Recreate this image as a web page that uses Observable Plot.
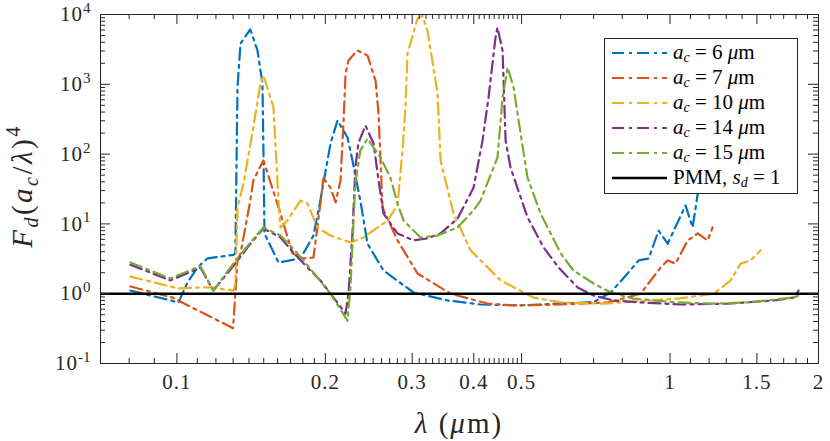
<!DOCTYPE html>
<html>
<head>
<meta charset="utf-8">
<script src="https://cdn.jsdelivr.net/npm/d3@7"></script>
<script src="https://cdn.jsdelivr.net/npm/@observablehq/plot@0.6"></script>
<style>
  html, body { margin: 0; padding: 0; background: #fff; }
</style>
</head>
<body>
<div id="chart"></div>
<script>
// ---- data (λ in µm, Fd(ac/λ)^4) ----
const lam6 = [0.0805,0.1007,0.1051,0.1101,0.1153,0.1302,0.1314,0.1327,0.1346,0.1409,0.1457,0.1491,0.1498,0.1505,0.1607,0.1781,0.1892,0.1954,0.2049,0.2117,0.2218,0.2270,0.2355,0.2435,0.2624,0.3019,0.354,0.413,0.498,0.60,0.70,0.758,0.820,0.864,0.905,0.948,0.989,1.075,1.111,1.138];
const f6   = [1.11,0.75,1.45,2.37,3.2,3.6,3.8,900,3850,6100,3050,1030,113,7.3,2.8,3.2,6.8,21.6,142,303,173,81,21.6,5.2,2.15,1.04,0.80,0.70,0.68,0.72,0.76,1.04,1.95,3.0,3.2,8.0,5.2,18.4,8.9,27];

const lam7 = [0.0805,0.098,0.130,0.1327,0.1346,0.1409,0.1429,0.1498,0.1622,0.1714,0.1806,0.1892,0.1927,0.1982,0.2049,0.2098,0.2147,0.2178,0.2198,0.2228,0.2323,0.2435,0.2528,0.2564,0.2612,0.2801,0.3076,0.3589,0.4266,0.4817,0.60,0.75,0.8716,0.957,0.989,1.026,1.086,1.138,1.192,1.22];
const f7   = [1.27,0.88,0.32,3.0,3.8,21.6,42,81,14.1,3.8,3.2,3.3,8.9,45,33,20.3,42,303,1430,2190,3050,2590,1130,382,17.2,5.8,1.95,1.0,0.72,0.68,0.70,0.75,1.0,2.37,3.0,2.7,5.8,7.3,5.8,8.9];

const lam10 = [0.0805,0.1007,0.1116,0.1169,0.1302,0.1314,0.1327,0.1365,0.1429,0.1477,0.1498,0.1570,0.1607,0.1622,0.1675,0.1781,0.1840,0.1927,0.2049,0.2249,0.2390,0.2673,0.2801,0.2868,0.2908,0.2935,0.3076,0.3148,0.3221,0.3378,0.3425,0.3639,0.3939,0.4533,0.5284,0.60,0.733,1.036,1.226,1.327,1.39,1.457,1.526];
const f10   = [1.76,1.19,1.23,1.23,1.11,1.40,17.2,38,240,1030,1340,465,21.6,8.9,11.2,21.6,19.6,8.9,6.8,5.4,6.4,11.2,18.4,113,497,2760,8770,9680,5900,738,81,14.1,4.2,1.55,0.88,0.75,0.72,0.85,1.0,1.55,2.7,3.0,4.2];

const lam14 = [0.0805,0.097,0.1116,0.1185,0.1302,0.1409,0.1498,0.1622,0.1722,0.1840,0.1954,0.2078,0.2198,0.2228,0.2270,0.2301,0.2333,0.2412,0.2505,0.2564,0.2624,0.2801,0.3019,0.3221,0.3425,0.3707,0.3995,0.4167,0.4285,0.4426,0.4467,0.4575,0.4640,0.4749,0.5140,0.5541,0.5943,0.6494,0.70,0.768,0.872,1.051,1.309,1.623,1.781,1.823];
const f14   = [2.6,1.55,2.37,1.11,2.5,5.2,8.6,6.4,3.9,2.37,1.55,0.88,0.52,1.0,7.3,64,142,257,142,42,14.1,7.3,5.8,6.2,7.3,11.9,33,157,647,4680,6515,3050,157,64,12.4,4.6,2.37,1.23,0.94,0.80,0.75,0.70,0.72,0.80,0.88,1.11];

const lam15 = [0.0805,0.097,0.1116,0.1185,0.1302,0.1409,0.1498,0.1622,0.1722,0.1806,0.1927,0.2049,0.2218,0.2249,0.2301,0.2355,0.2435,0.2588,0.2710,0.2801,0.2881,0.3119,0.3378,0.3707,0.3995,0.4128,0.4467,0.4575,0.4684,0.4817,0.4977,0.5140,0.5463,0.60,0.6368,0.70,0.758,0.843,1.036,1.209,1.437,1.781,1.823];
const f15   = [2.8,1.65,2.5,1.11,2.7,5.4,8.9,6.8,4.4,3.0,1.71,1.0,0.41,1.23,38,113,167,89,46,19.6,11.2,6.4,6.8,8.9,15.6,21.6,89,647,1740,900,197,46,14.1,3.8,2.15,1.40,1.04,0.85,0.75,0.72,0.75,0.88,0.94];

const pmmLevel = 1;

const seriesNames  = ["6", "7", "10", "14", "15"];
const seriesColors = ["#0072BD", "#D95319", "#EDB120", "#7E2F8E", "#77AC30"];

// ---- tick values ----
const xMajor = [0.1, 0.2, 0.3, 0.4, 0.5, 1, 1.5, 2];
const xMinor = [0.07,0.08,0.09,
  0.11,0.12,0.13,0.14,0.15,0.16,0.17,0.18,0.19,
  0.21,0.22,0.23,0.24,0.25,0.26,0.27,0.28,0.29,
  0.31,0.32,0.33,0.34,0.35,0.36,0.37,0.38,0.39,
  0.41,0.42,0.43,0.44,0.45,0.46,0.47,0.48,0.49,
  0.6,0.7,0.8,0.9,1.1,1.2,1.3,1.4,1.6,1.7,1.8,1.9];
const yMajor = [0.1, 1, 10, 100, 1000, 10000];
const yMinor = [0.2,0.3,0.4,0.5,0.6,0.7,0.8,0.9,
  2,3,4,5,6,7,8,9,
  20,30,40,50,60,70,80,90,
  200,300,400,500,600,700,800,900,
  2000,3000,4000,5000,6000,7000,8000,9000];

// ---- build tables ----
const allLam = [lam6, lam7, lam10, lam14, lam15];
const allF   = [f6, f7, f10, f14, f15];
const tables = allLam.map((L, i) => L.map((l, j) => ({lam: l, f: allF[i][j]})));

const W = 830, H = 441;
const mL = 100, mR = 12, mT = 14, mB = 78;
const fw = W - mL - mR, fh = H - mT - mB;
const axisColor = "#262626";
const dash = "12,5,3,5";
const lw = 2.2;

const marks = [];
tables.forEach((t, i) => {
  marks.push(Plot.line(t, {x: "lam", y: "f", stroke: seriesColors[i], strokeWidth: lw, strokeDasharray: dash}));
});
marks.push(Plot.ruleY([pmmLevel], {stroke: "#000", strokeWidth: 2.5}));
// inward ticks (bottom/top/left/right)
marks.push(Plot.tickX(xMajor, {x: d => d, insetTop: fh - 10, stroke: axisColor}));
marks.push(Plot.tickX(xMajor, {x: d => d, insetBottom: fh - 10, stroke: axisColor}));
marks.push(Plot.tickX(xMinor, {x: d => d, insetTop: fh - 5, stroke: axisColor}));
marks.push(Plot.tickX(xMinor, {x: d => d, insetBottom: fh - 5, stroke: axisColor}));
marks.push(Plot.tickY(yMajor, {y: d => d, insetRight: fw - 10, stroke: axisColor}));
marks.push(Plot.tickY(yMajor, {y: d => d, insetLeft: fw - 10, stroke: axisColor}));
marks.push(Plot.tickY(yMinor, {y: d => d, insetRight: fw - 5, stroke: axisColor}));
marks.push(Plot.tickY(yMinor, {y: d => d, insetLeft: fw - 5, stroke: axisColor}));
marks.push(Plot.frame({stroke: axisColor, strokeWidth: 1}));
marks.push(Plot.axisX({ticks: xMajor, tickSize: 0, tickPadding: 11, label: null, fontSize: 21, tickFormat: d => String(d)}));
marks.push(Plot.axisY({ticks: yMajor, tickSize: 0, tickPadding: 10, label: null, fontSize: 21, tickFormat: d => String(Math.round(Math.log10(d)))}));

const svg = Plot.plot({
  width: W, height: H,
  marginLeft: mL, marginRight: mR, marginTop: mT, marginBottom: mB,
  x: {type: "log", domain: [0.07, 2]},
  y: {type: "log", domain: [0.1, 10000]},
  style: {fontFamily: "'Liberation Serif', serif", fontSize: "21px", color: axisColor, background: "white", overflow: "visible"},
  marks
});

const s = d3.select(svg);
s.selectAll('g[aria-label="x-axis tick label"] text').attr("letter-spacing", "1px");
// superscript exponents on y tick labels
s.selectAll('g[aria-label="y-axis tick label"] text').each(function() {
  const e = this.textContent;
  const t = d3.select(this);
  t.text(null);
  t.append("tspan").attr("letter-spacing", "1px").text("10");
  t.append("tspan").attr("dy", "-0.55em").attr("font-size", "15px").text(e);
});

// y axis title
const yt = s.append("text")
  .attr("transform", "translate(32,186) rotate(-90)")
  .attr("text-anchor", "middle")
  .attr("font-size", "29px")
  .attr("letter-spacing", "2.5px")
  .attr("fill", axisColor);
yt.append("tspan").attr("font-style", "italic").text("F");
yt.append("tspan").attr("font-style", "italic").attr("font-size", "20px").attr("dy", "6").text("d");
yt.append("tspan").attr("dy", "-6").text("(");
yt.append("tspan").attr("font-style", "italic").text("a");
yt.append("tspan").attr("font-style", "italic").attr("font-size", "20px").attr("dy", "6").text("c");
yt.append("tspan").attr("dy", "-6").text("/");
yt.append("tspan").attr("font-style", "italic").text("λ");
yt.append("tspan").text(")");
yt.append("tspan").attr("font-size", "20px").attr("dy", "-12").text("4");

// x axis title
const xt = s.append("text")
  .attr("x", 459).attr("y", 433)
  .attr("text-anchor", "middle")
  .attr("font-size", "29px")
  .attr("letter-spacing", "2px")
  .attr("fill", axisColor);
xt.append("tspan").attr("font-style", "italic").text("λ");
xt.append("tspan").text(" (");
xt.append("tspan").attr("font-style", "italic").text("μ");
xt.append("tspan").text("m)");

// legend
const lg = s.append("g").attr("text-anchor", "start");
lg.append("rect").attr("x", 604.5).attr("y", 38.5).attr("width", 193).attr("height", 155)
  .attr("fill", "white").attr("stroke", axisColor).attr("stroke-width", 1);
const rowY = [53, 78, 103, 128, 153, 178];
seriesNames.forEach((n, i) => {
  const y = rowY[i];
  lg.append("line").attr("x1", 612).attr("x2", 667).attr("y1", y).attr("y2", y)
    .attr("stroke", seriesColors[i]).attr("stroke-width", lw).attr("stroke-dasharray", dash);
  const t = lg.append("text").attr("x", 673).attr("y", y + 6).attr("font-size", "21px").attr("fill", "#000");
  t.append("tspan").attr("font-style", "italic").text("a");
  t.append("tspan").attr("font-style", "italic").attr("font-size", "14px").attr("dy", "3").text("c");
  t.append("tspan").attr("dy", "-3").text(" = " + n + " ");
  t.append("tspan").attr("font-style", "italic").text("μ");
  t.append("tspan").text("m");
});
{
  const y = rowY[5];
  lg.append("line").attr("x1", 612).attr("x2", 667).attr("y1", y).attr("y2", y)
    .attr("stroke", "#000").attr("stroke-width", 2.5);
  const t = lg.append("text").attr("x", 673).attr("y", y + 6).attr("font-size", "21px").attr("fill", "#000");
  t.append("tspan").text("PMM, ");
  t.append("tspan").attr("font-style", "italic").text("s");
  t.append("tspan").attr("font-style", "italic").attr("font-size", "14px").attr("dy", "3").text("d");
  t.append("tspan").attr("dy", "-3").text(" = 1");
}

document.getElementById("chart").appendChild(svg);
</script>
</body>
</html>
